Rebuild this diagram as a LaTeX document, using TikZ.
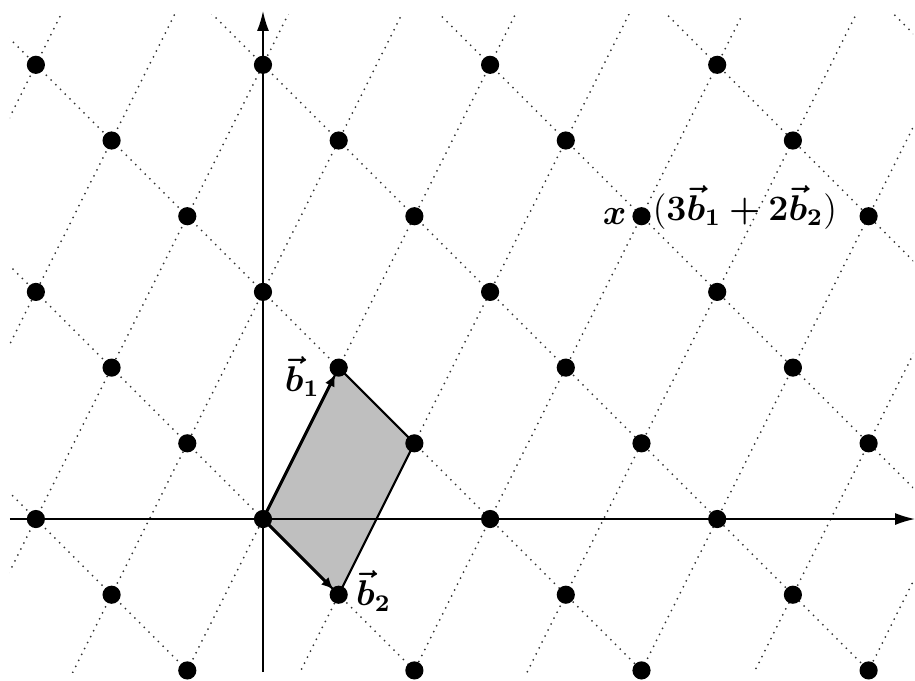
\documentclass[tikz,border=0pt]{standalone}
\usepackage{graphicx}
\usepackage{bm}
\usetikzlibrary{arrows.meta}
\newcommand{\lblbox}[1]{\scalebox{1.12}{#1}}
\begin{document}
\begin{tikzpicture}[x=1cm,y=1cm,
  latt/.style={line width=0.75pt, black!80, dash pattern=on 0pt off 2.5pt, line cap=round},
  pt/.style={circle, fill=black, inner sep=0pt, minimum size=0.24cm},
  axis/.style={line width=0.6pt, -{Latex[length=7.5pt,width=4.5pt]}},
  vecarr/.style={line width=1.1pt, -{Latex[length=4.5pt,width=4pt]}, shorten >=0.1cm},
  cell/.style={fill=black!25, draw=black, line width=0.8pt, line join=round},
  lbl/.style={font=\large, inner sep=1pt}
]
\useasboundingbox (-3.474,-2.127) rectangle (8.613,6.856);
% lattice lines
\begin{scope}
  \clip (-3.342,-2.021) rectangle (8.587,6.671);
  \foreach \j in {-12,...,12}
    \draw[latt] ({\j-10},{-(\j)-20}) -- ({\j+10},{-(\j)+20});
  \foreach \i in {-10,...,10}
    \draw[latt] ({\i-12},{2*(\i)+12}) -- ({\i+12},{2*(\i)-12});
\end{scope}
% named points
\coordinate (O) at (0,0);
\coordinate (B1) at (1,2);
\coordinate (B2) at (1,-1);
\coordinate (B12) at (2,1);
\coordinate (xs) at (-3.342,0);
\coordinate (xe) at (8.613,0);
\coordinate (ys) at (0,-2.021);
\coordinate (ye) at (0,6.711);
% fundamental cell
\draw[cell] (O) -- (B1) -- (B12) -- (B2) -- cycle;
% axes
\draw[axis] (xs) -- (xe);
\draw[axis] (ys) -- (ye);
% basis vectors
\draw[vecarr] (O) -- (B1);
\draw[vecarr] (O) -- (B2);
% lattice points
\foreach \x in {-3,...,8}
  \foreach \y in {-2,...,6} {
    \pgfmathtruncatemacro\r{mod(\x+\y+30,3)}
    \ifnum\r=0 \node[pt] (p\x x\y) at (\x,\y) {}; \fi
  }
% labels
\node[lbl] (lb1) at (0.52,1.88) {\lblbox{$\bm{\vec{b}_1}$}};
\node[lbl] (lb2) at (1.46,-0.95) {\lblbox{$\bm{\vec{b}_2}$}};
\node[lbl, anchor=east] (lx) at ([xshift=-0.03cm]p5x4.west) {\lblbox{$\bm{x}$}};
\node[lbl, anchor=west] (lsum) at ([xshift=-0.02cm,yshift=0.12cm]p5x4.east) {\lblbox{$\bigl(\bm{3\vec{b}_1+2\vec{b}_2}\bigr)$}};
\end{tikzpicture}
\end{document}
